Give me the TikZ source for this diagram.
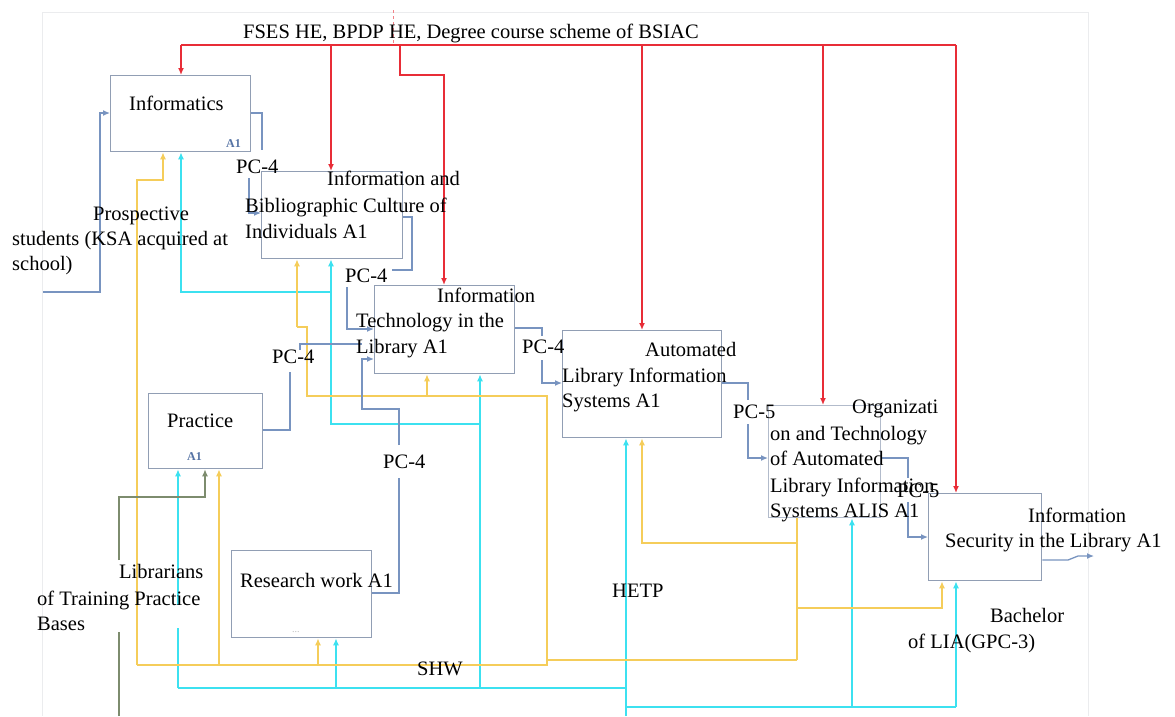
\documentclass[tikz,border=0pt]{standalone}
\usepackage{fontspec}
\setmainfont{Liberation Serif}
\usetikzlibrary{arrows.meta}
\definecolor{boxc}{RGB}{145,158,180}
\definecolor{blc}{RGB}{120,148,192}
\definecolor{rdc}{RGB}{232,45,55}
\definecolor{cyc}{RGB}{60,225,240}
\definecolor{ylc}{RGB}{245,205,90}
\definecolor{gnc}{RGB}{125,140,110}
\definecolor{aonec}{RGB}{85,115,165}
\definecolor{framec}{RGB}{235,236,238}
\begin{document}
\begin{tikzpicture}[x=1pt,y=-1pt,
  box/.style={draw=boxc,line width=1.3pt,rectangle,inner sep=0pt,anchor=north west},
  lbl/.style={anchor=base west,inner sep=0pt,font=\fontsize{20.5}{25}\selectfont},
  aone/.style={anchor=base west,inner sep=0pt,text=aonec,font=\fontsize{12}{14}\selectfont\bfseries},
  tip/.style={-{Latex[length=7pt,width=6pt]}},
  bl/.style={draw=blc,line width=1.3pt},
  rd/.style={draw=rdc,line width=1.4pt},
  cy/.style={draw=cyc,line width=1.6pt},
  yl/.style={draw=ylc,line width=1.6pt},
  gn/.style={draw=gnc,line width=1.3pt},
  frm/.style={draw=framec,line width=1pt}]
\useasboundingbox (0,0) rectangle (1175,716);
\fill[white] (0,0) rectangle (1175,716);
% frame
\draw[frm] (42,716) -- (42,12) -- (1088,12) -- (1088,716);
% boxes
\node[box,minimum width=140pt,minimum height=76pt] (inf) at (110,75) {};
\node[box,minimum width=141pt,minimum height=87pt] (ibc) at (261,171) {};
\node[box,minimum width=140pt,minimum height=88pt] (itl) at (374,285) {};
\node[box,minimum width=159pt,minimum height=107pt] (alis) at (562,330) {};
\node[box,draw=boxc!70,minimum width=112pt,minimum height=112pt] (ot) at (768,405) {};
\node[box,minimum width=113pt,minimum height=87pt] (isl) at (928,493) {};
\node[box,minimum width=114pt,minimum height=75pt] (prac) at (148,393) {};
\node[box,minimum width=140pt,minimum height=87pt] (rw) at (231,550) {};
% red controls
\draw[draw=rdc!60,line width=0.6pt,dashed] (393,10) -- (393,45);
\draw[rd] (181,45) -- (956,45);
\draw[rd,tip] (181,45) -- (181,0 |- inf.north);
\draw[rd,tip] (331,45) -- (331,0 |- ibc.north);
\draw[rd,tip] (400,45) -- (400,75) -- (444,75) -- (444,0 |- itl.north);
\draw[rd,tip] (642,45) -- (642,0 |- alis.north);
\draw[rd,tip] (823,45) -- (823,0 |- ot.north);
\draw[rd,tip] (956,45) -- (956,0 |- isl.north);
% cyan mechanisms
\draw[cy] (178,688) -- (626,688);
\draw[cy] (626,707) -- (956,707);
\draw[cy,tip] (178,605) -- (178,0 |- prac.south);
\draw[cy] (178,688) -- (178,628);
\draw[cy,tip] (336,688) -- (336,0 |- rw.south);
\draw[cy,tip] (480,688) -- (480,0 |- itl.south);
\draw[cy,tip] (626,716) -- (626,0 |- alis.south);
\draw[cy,tip] (852,707) -- (852,0 |- ot.south);
\draw[cy,tip] (956,707) -- (956,0 |- isl.south);
\draw[cy] (480,424) -| (331,292);
\draw[cy,tip] (331,292) -- (331,0 |- ibc.south);
\draw[cy,tip] (331,292) -| (181,0 |- inf.south);
% yellow
\draw[yl] (137,665) -- (547,665) -- (547,660) -- (797,660);
\draw[yl,tip] (137,665) |- (163,180) -- (163,0 |- inf.south);
\draw[yl,tip] (219,665) -- (219,0 |- prac.south);
\draw[yl,tip] (318,665) -- (318,0 |- rw.south);
\draw[yl] (547,660) -- (547,396) -- (307,396) -- (307,327) -- (297,327);
\draw[yl,tip] (297,327) -- (297,0 |- ibc.south);
\draw[yl,tip] (427,396) -- (427,0 |- itl.south);
\draw[yl] (797,660) -- (797,0 |- ot.south);
\draw[yl,tip] (797,543) -| (642,0 |- alis.south);
\draw[yl,tip] (797,608) -| (942,0 |- isl.south);
% green (librarians)
\draw[gn] (119,716) -- (119,632);
\draw[gn,tip] (119,560) |- (205,497) -- (205,0 |- prac.south);
% blue flows
\draw[bl,tip] (43,292) -| (100,113) -- (inf.west |- 0,113);
\draw[bl] (inf.east |- 0,113) -| (262,150);
\draw[bl,tip] (249,178) |- (ibc.west |- 0,213);
\draw[bl] (ibc.east |- 0,217) -| (412,270) -- (392,270);
\draw[bl,tip] (347,287) |- (itl.west |- 0,329);
\draw[bl] (prac.east |- 0,430) -| (290,372);
\draw[bl] (300,350) -- (300,344) -- (362,344);
\draw[bl] (rw.east |- 0,593) -| (399,478);
\draw[bl,tip] (399,445) |- (362,409) |- (itl.west |- 0,359);
\draw[bl] (itl.east |- 0,328) -| (542,336);
\draw[bl,tip] (542,360) |- (alis.west |- 0,383);
\draw[bl] (alis.east |- 0,383) -| (748,400);
\draw[bl,tip] (748,424) |- (ot.west |- 0,458);
\draw[bl] (ot.east |- 0,458) -| (908,478);
\draw[bl,tip] (908,502) |- (isl.west |- 0,537);
\draw[bl,tip] (isl.east |- 0,560) -- (1068,560) -- (1078,556) -- (1094,556);
% texts
\node[lbl] (ttop) at (243,38) {FSES HE, BPDP HE, Degree course scheme of BSIAC};
\node[lbl] (tinf) at (129,110) {Informatics};
\node[aone] (ainf) at (226,147) {A1};
\node[lbl] (tibc1) at (327,185) {Information and};
\node[lbl] (tibc2) at (245,212) {Bibliographic Culture of};
\node[lbl] (tibc3) at (245,238) {Individuals A1};
\node[lbl] (titl1) at (437,302) {Information};
\node[lbl] (titl2) at (356,327) {Technology in the};
\node[lbl] (titl3) at (356,353) {Library A1};
\node[lbl] (talis1) at (645,356) {Automated};
\node[lbl] (talis2) at (562,382) {Library Information};
\node[lbl] (talis3) at (562,407) {Systems A1};
\node[lbl] (tot1) at (852,413) {Organizati};
\node[lbl] (tot2) at (770,440) {on and Technology};
\node[lbl] (tot3) at (770,465) {of Automated};
\node[lbl] (tot4) at (770,492) {Library Information};
\node[lbl] (tot5) at (770,517) {Systems ALIS A1};
\node[lbl] (tisl1) at (1028,522) {Information};
\node[lbl] (tisl2) at (945,547) {Security in the Library A1};
\node[lbl] (tprac) at (167,427) {Practice};
\node[aone] (aprac) at (187,460) {A1};
\node[lbl] (trw) at (240,587) {Research work A1};
\node[anchor=base west,inner sep=0pt,text=gray!50,font=\fontsize{10}{12}\selectfont] (tdots) at (292,632) {...};
\node[lbl] (tps1) at (93,220) {Prospective};
\node[lbl] (tps2) at (12,245) {students (KSA acquired at};
\node[lbl] (tps3) at (12,270) {school)};
\node[lbl] (tlb1) at (119,578) {Librarians};
\node[lbl] (tlb2) at (37,605) {of Training Practice};
\node[lbl] (tlb3) at (37,630) {Bases};
\node[lbl] (thetp) at (612,597) {HETP};
\node[lbl] (tshw) at (417,675) {SHW};
\node[lbl] (tbach1) at (990,622) {Bachelor};
\node[lbl] (tbach2) at (908,648) {of LIA(GPC-3)};
\node[lbl] (pc1) at (236,173) {PC-4};
\node[lbl] (pc2) at (345,282) {PC-4};
\node[lbl] (pc3) at (272,363) {PC-4};
\node[lbl] (pc4) at (383,468) {PC-4};
\node[lbl] (pc5) at (522,353) {PC-4};
\node[lbl] (pc6) at (733,418) {PC-5};
\node[lbl] (pc7) at (897,497) {PC-5};
\end{tikzpicture}
\end{document}
